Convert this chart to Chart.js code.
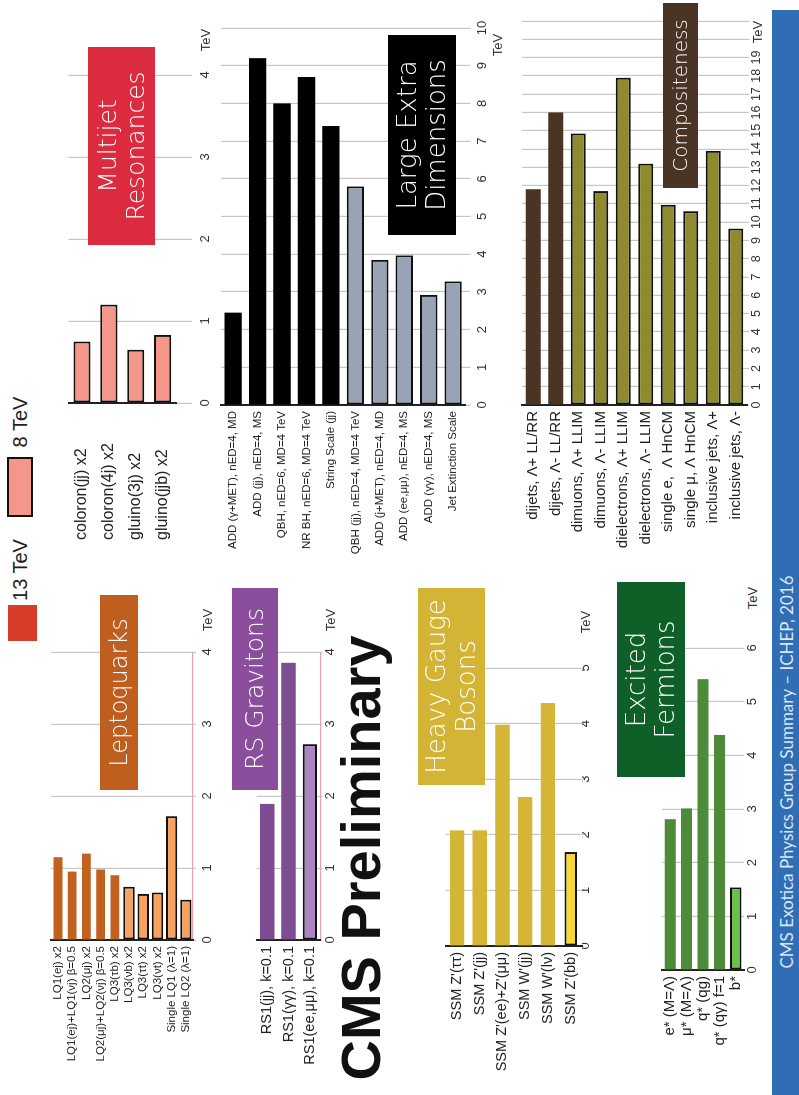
<!DOCTYPE html>
<html>
<head>
<meta charset="utf-8">
<script src="https://cdn.jsdelivr.net/npm/chart.js@4.4.1/dist/chart.umd.min.js"></script>
<style>
  html, body { margin: 0; padding: 0; background: #fff; width: 799px; height: 1095px; overflow: hidden; }
  /* the poster is laid out landscape and turned a quarter turn to the left */
  #land {
    position: absolute; left: 0; top: 0; width: 1095px; height: 799px;
    transform-origin: 0 0; transform: translate(0, 1095px) rotate(-90deg);
    font-family: 'Liberation Sans', Arial, sans-serif; color: #222;
  }
  #land canvas { position: absolute; }
  .box {
    position: absolute; z-index: 2; color: #fff; text-align: center;
    font-family: 'DejaVu Sans', sans-serif; font-weight: 200; line-height: 1.12;
    display: flex; align-items: center; justify-content: center;
  }
  .t { position: absolute; z-index: 3; transform: translate(-50%, -50%); white-space: nowrap; }
</style>
</head>
<body>
<div id="land"></div>
<script>
/* ── DATA (TeV) ── */
const mjLabels = ['coloron(jj) x2', 'coloron(4j) x2', 'gluino(3j) x2', 'gluino(jjb) x2'];
const mj13     = [null, null, null, null];
const mj8      = [0.75, 1.2, 0.65, 0.83];

const ledLabels = ['ADD (γ+MET), nED=4, MD', 'ADD (jj), nED=4, MS', 'QBH, nED=6, MD=4 TeV',
                   'NR BH, nED=6, MD=4 TeV', 'String Scale (jj)', 'QBH (jj), nED=4, MD=4 TeV',
                   'ADD (j+MET), nED=4, MD', 'ADD (ee,μμ), nED=4, MS', 'ADD (γγ), nED=4, MS',
                   'Jet Extinction Scale'];
const led13 = [2.45, 9.2, 8.0, 8.7, 7.4, null, null, null, null, null];
const led8  = [null, null, null, null, null, 5.8, 3.85, 3.97, 2.92, 3.28];

const compLabels = ['dijets, Λ+ LL/RR', 'dijets, Λ- LL/RR', 'dimuons, Λ+ LLIM', 'dimuons, Λ- LLIM',
                    'dielectrons, Λ+ LLIM', 'dielectrons, Λ- LLIM', 'single e,  Λ HnCM',
                    'single μ, Λ HnCM', 'inclusive jets, Λ+', 'inclusive jets, Λ-'];
const comp13 = [11.8, 16.0, null, null, null, null, null, null, null, null];
const comp8  = [null, null, 14.85, 11.7, 17.9, 13.2, 10.95, 10.6, 13.9, 9.65];

const lqLabels = ['LQ1(ej) x2', 'LQ1(ej)+LQ1(νj) β=0.5', 'LQ2(μj) x2', 'LQ2(μj)+LQ2(νj) β=0.5',
                  'LQ3(τb) x2', 'LQ3(νb) x2', 'LQ3(τt) x2', 'LQ3(νt) x2',
                  'Single LQ1 (λ=1)', 'Single LQ2 (λ=1)'];
const lq13 = [1.15, 0.95, 1.2, 0.98, 0.9, null, null, null, null, null];
const lq8  = [null, null, null, null, null, 0.74, 0.64, 0.66, 1.72, 0.56];

const rsLabels = ['RS1(jj), k=0.1', 'RS1(γγ), k=0.1', 'RS1(ee,μμ), k=0.1'];
const rs13 = [1.89, 3.85, null];
const rs8  = [null, null, 2.72];

const hgbLabels = ["SSM Z'(ττ)", "SSM Z'(jj)", "SSM Z'(ee)+Z'(μμ)", "SSM W'(jj)", "SSM W'(lν)", "SSM Z'(bb)"];
const hgb13 = [2.08, 2.08, 3.98, 2.68, 4.37, null];
const hgb8  = [null, null, null, null, null, 1.69];

const efLabels = ['e* (M=Λ)', 'μ* (M=Λ)', 'q* (qg)', 'q* (qγ) f=1', 'b*'];
const ef13 = [2.81, 3.01, 5.42, 4.38, null];
const ef8  = [null, null, null, null, 1.54];

/* ── HELPERS ── */
const land = document.getElementById('land');
const FONT = "'Liberation Sans', Arial, sans-serif";
const GRID = '#c6c6c6';

function addText(str, lx, ly, css) {
  const d = document.createElement('div');
  d.className = 't';
  d.textContent = str;
  Object.assign(d.style, { left: lx + 'px', top: ly + 'px' }, css || {});
  land.appendChild(d);
}

function addBox(lines, x, y, w, h, bg, size) {
  const d = document.createElement('div');
  d.className = 'box';
  d.innerHTML = lines.join('<br>');
  Object.assign(d.style, { left: x + 'px', top: y + 'px', width: w + 'px', height: h + 'px',
                           background: bg, fontSize: size + 'px' });
  land.appendChild(d);
}

function addRect(x, y, w, h, css) {
  const d = document.createElement('div');
  Object.assign(d.style, { position: 'absolute', left: x + 'px', top: y + 'px',
                           width: w + 'px', height: h + 'px', boxSizing: 'border-box' }, css);
  land.appendChild(d);
}

/* one horizontal bar panel; x0/x1 = pixel of 0 and of max, y0/y1 = category band */
function panel(p) {
  const PT = 10, PR = 24;
  const tickSize = p.tickSize || 13;
  const xAxisH = p.tickY - p.y1 + 14;
  const w = p.labelW + (p.x1 - p.x0) + PR;
  const h = PT + (p.y1 - p.y0) + xAxisH;

  const cv = document.createElement('canvas');
  cv.width = w; cv.height = h;
  Object.assign(cv.style, { left: (p.x0 - p.labelW) + 'px', top: (p.y0 - PT) + 'px',
                            width: w + 'px', height: h + 'px' });
  land.appendChild(cv);

  return new Chart(cv, {
    type: 'bar',
    data: {
      labels: p.labels,
      datasets: [
        { data: p.v13, backgroundColor: p.c13, borderWidth: 0,
          barPercentage: p.bp13, categoryPercentage: 1, grouped: false },
        { data: p.v8, backgroundColor: p.c8, borderColor: '#111', borderWidth: 2, borderSkipped: false,
          barPercentage: p.bp8, categoryPercentage: 1, grouped: false }
      ]
    },
    options: {
      indexAxis: 'y',
      responsive: false,
      animation: false,
      layout: { padding: { top: PT, right: PR, left: 0, bottom: 0 } },
      plugins: { legend: { display: false }, tooltip: { enabled: false } },
      scales: {
        x: {
          min: 0, max: p.max,
          afterFit: s => { s.height = xAxisH; },
          ticks: {
            stepSize: 1, autoSkip: false, maxRotation: 0,
            padding: p.tickY - p.y1 - p.tickLen - 0.6 * tickSize,
            font: { family: FONT, size: tickSize }, color: '#333',
            callback: v => (v <= p.last ? v : '')
          },
          grid: { color: GRID, lineWidth: 1.2, tickLength: p.tickLen },
          border: { display: !!p.axisColor, color: p.axisColor || GRID, width: 1.2 }
        },
        y: {
          afterFit: s => { s.width = p.labelW; },
          ticks: { autoSkip: false, padding: 6, color: '#222', crossAlign: p.crossAlign || 'near',
                   font: { family: FONT, size: p.labelSize } },
          grid: { display: false, drawTicks: false },
          border: { color: '#222', width: 2 }
        }
      }
    }
  });
}

/* ── TOP ROW ── */
panel({ labels: mjLabels, v13: mj13, v8: mj8, c13: '#d63c27', c8: '#f4968a', bp13: 0.64, bp8: 0.64,
        max: 4, last: 4, x0: 692, x1: 1020, y0: 63, y1: 176, tickY: 205, tickLen: 16,
        labelW: 137, labelSize: 16, crossAlign: 'far' });

panel({ labels: ledLabels, v13: led13, v8: led8, c13: '#000000', c8: '#98a3b5', bp13: 0.71, bp8: 0.71,
        max: 10, last: 10, x0: 690, x1: 1067, y0: 217.6, y1: 465.4, tickY: 482, tickLen: 5,
        labelW: 160, labelSize: 11.5 });

panel({ labels: compLabels, v13: comp13, v8: comp8, c13: '#4a3525', c8: '#8f8a2d', bp13: 0.67, bp8: 0.67,
        max: 21, last: 19, x0: 690, x1: 1074.3, y0: 517, y1: 747, tickY: 757, tickLen: 2,
        labelW: 165, labelSize: 15, tickSize: 12.5 });

/* ── BOTTOM ROW ── */
panel({ labels: lqLabels, v13: lq13, v8: lq8, c13: '#c1611f', c8: '#f6a261', bp13: 0.62, bp8: 0.8,
        max: 4, last: 4, x0: 155, x1: 443, y0: 47.7, y1: 193, tickY: 207, tickLen: 3,
        labelW: 155, labelSize: 11.5, axisColor: '#e9a3ab' });

panel({ labels: rsLabels, v13: rs13, v8: rs8, c13: '#7e4c90', c8: '#a985c2', bp13: 0.68, bp8: 0.68,
        max: 4, last: 4, x0: 155, x1: 443, y0: 251.5, y1: 320.5, tickY: 330, tickLen: 2,
        labelW: 155, labelSize: 14.5, axisColor: '#e9a3ab' });

panel({ labels: hgbLabels, v13: hgb13, v8: hgb8, c13: '#d5b535', c8: '#f7d733', bp13: 0.63, bp8: 0.55,
        max: 5, last: 5, x0: 149, x1: 427, y0: 440.5, y1: 582, tickY: 585, tickLen: 2,
        labelW: 149, labelSize: 14.5 });

panel({ labels: efLabels, v13: ef13, v8: ef8, c13: '#4d8b3b', c8: '#6cc04a', bp13: 0.67, bp8: 0.7,
        max: 6, last: 6, x0: 125, x1: 447, y0: 657, y1: 744, tickY: 752, tickLen: 0,
        labelW: 125, labelSize: 15 });

/* ── TITLE BOXES ── */
addBox(['Multijet', 'Resonances'], 850, 88, 198, 67, '#dc2b3e', 25);
addBox(['Large Extra', 'Dimensions'], 860, 388, 200, 68, '#000000', 26);
addBox(['Compositeness'], 907, 663, 185, 35, '#4a3425', 20);
addBox(['Leptoquarks'], 305, 100, 195, 38, '#bf5f1f', 24);
addBox(['RS Gravitons'], 305, 232, 202, 46, '#8a4e9c', 25);
addBox(['Heavy Gauge', 'Bosons'], 310, 418, 197, 67, '#d4b435', 26);
addBox(['Excited', 'Fermions'], 318, 617, 195, 68, '#0f5f28', 26);

/* ── UNITS ── */
const unit = { fontSize: '13px', color: '#333' };
addText('TeV', 1055, 205, unit);
addText('TeV', 1050, 497, unit);
addText('TeV', 1063, 757, unit);
addText('TeV', 475, 207, unit);
addText('TeV', 475, 330, unit);
addText('TeV', 473, 585, unit);
addText('TeV', 497, 752, unit);

/* ── LEGEND ── */
addRect(454, 8, 36, 29, { background: '#d63c27' });
addText('13 TeV', 525, 20, { fontSize: '20px', color: '#222' });
addRect(578, 7, 60, 26, { background: '#f4968a', border: '2px solid #111' });
addText('8 TeV', 673, 20, { fontSize: '20px', color: '#222' });

/* ── CMS PRELIMINARY + FOOTER ── */
addText('CMS Preliminary', 237, 360, { fontSize: '56px', fontWeight: 'bold', color: '#111' });

addRect(0, 772, 1085, 27, { background: '#2f6db5' });
addText('CMS Exotica Physics Group Summary – ICHEP, 2016', 323, 786,
        { fontSize: '17px', color: '#dbe5f3', fontFamily: 'Lato, sans-serif' });
</script>
</body>
</html>
